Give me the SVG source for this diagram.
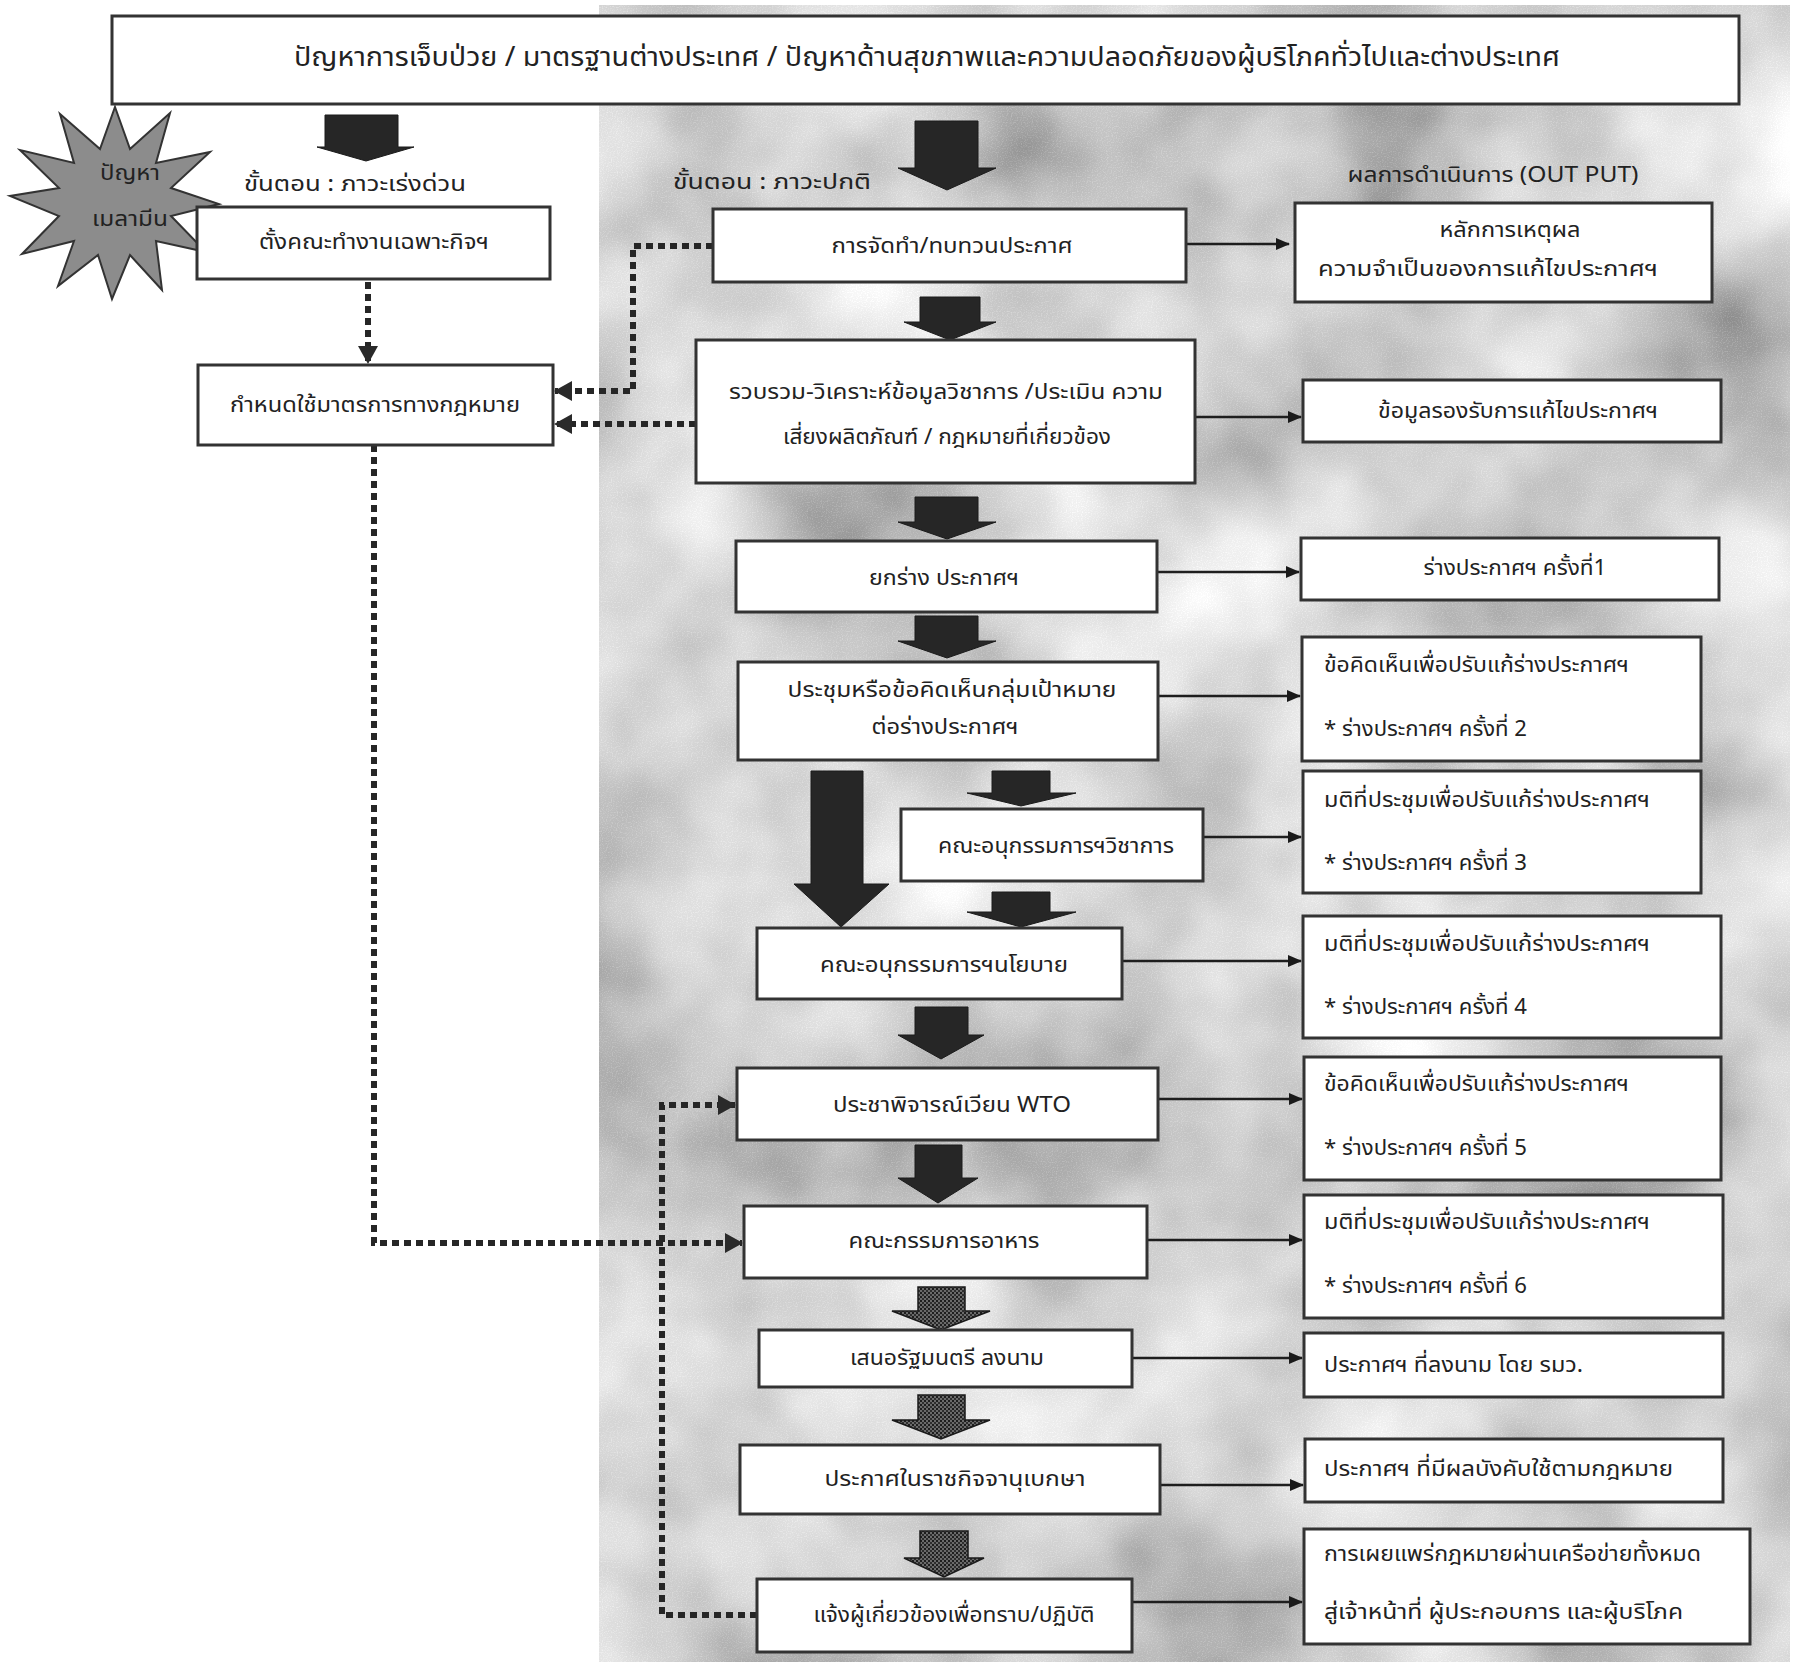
<svg xmlns="http://www.w3.org/2000/svg" width="1805" height="1662" viewBox="0 0 1805 1662">
<defs>
<filter id="cloud" x="0" y="0" width="100%" height="100%" filterUnits="objectBoundingBox">
<feTurbulence type="fractalNoise" baseFrequency="0.004" numOctaves="4" seed="7" result="n1"/>
<feColorMatrix in="n1" type="matrix" values="1.1 0 0 0 0.08  1.1 0 0 0 0.08  1.1 0 0 0 0.08  0 0 0 0 1" result="c1"/>
<feTurbulence type="fractalNoise" baseFrequency="0.8" numOctaves="1" seed="2" result="n2"/>
<feColorMatrix in="n2" type="matrix" values="0.35 0 0 0 -0.17  0.35 0 0 0 -0.17  0.35 0 0 0 -0.17  0 0 0 0 1" result="c2"/>
<feComposite in="c1" in2="c2" operator="arithmetic" k1="0" k2="1" k3="1" k4="0"/>
</filter>
<pattern id="dots" width="4" height="4" patternUnits="userSpaceOnUse">
<rect width="4" height="4" fill="#6a6a6a"/>
<rect width="2" height="2" fill="#1e1e1e"/>
<rect x="2" y="2" width="2" height="2" fill="#2e2e2e"/>
</pattern>
<marker id="ah" viewBox="0 0 14 12" refX="13" refY="6" markerWidth="14" markerHeight="12" markerUnits="userSpaceOnUse" orient="auto">
<path d="M0,0 L14,6 L0,12 Z" fill="#1a1a1a"/>
</marker>
<marker id="dh" viewBox="0 0 18 20" refX="17" refY="10" markerWidth="18" markerHeight="20" markerUnits="userSpaceOnUse" orient="auto">
<path d="M0,0 L18,10 L0,20 Z" fill="#2a2a2a"/>
</marker>
<style>
.box{fill:#ffffff;stroke:#333333;stroke-width:3}
.t{font-family:"Noto Sans Thai","Noto Sans","DejaVu Sans",sans-serif;font-size:22px;fill:#222222;dominant-baseline:central}
.c{text-anchor:middle}
.big{font-size:27px}
.blk{fill:#262626;stroke:#1a1a1a;stroke-width:1}
.pat{fill:url(#dots);stroke:#1a1a1a;stroke-width:1.5}
.sol{fill:none;stroke:#1e1e1e;stroke-width:2.5}
.dot{fill:none;stroke:#262626;stroke-width:6;stroke-dasharray:7 5}
</style>
</defs>
<rect x="0" y="0" width="1805" height="1662" fill="#ffffff"/>
<rect id="bg" x="599" y="5" width="1191" height="1657" filter="url(#cloud)"/>

<g id="connectors">
<path class="sol" d="M1186,244 H1289" marker-end="url(#ah)"/>
<path class="sol" d="M1195,417 H1301" marker-end="url(#ah)"/>
<path class="sol" d="M1157,572 H1299" marker-end="url(#ah)"/>
<path class="sol" d="M1158,696 H1300" marker-end="url(#ah)"/>
<path class="sol" d="M1203,837 H1301" marker-end="url(#ah)"/>
<path class="sol" d="M1122,961 H1301" marker-end="url(#ah)"/>
<path class="sol" d="M1158,1099 H1302" marker-end="url(#ah)"/>
<path class="sol" d="M1147,1240 H1302" marker-end="url(#ah)"/>
<path class="sol" d="M1132,1358 H1302" marker-end="url(#ah)"/>
<path class="sol" d="M1160,1485 H1303" marker-end="url(#ah)"/>
<path class="sol" d="M1132,1602 H1302" marker-end="url(#ah)"/>
<path class="dot" d="M368,282 V363" marker-end="url(#dh)"/>
<path class="dot" d="M713,246 H633 V391 H555" marker-end="url(#dh)"/>
<path class="dot" d="M696,424 H555" marker-end="url(#dh)"/>
<path class="dot" d="M374,445 V1243 H742" marker-end="url(#dh)"/>
<path class="dot" d="M757,1615 H662 V1105 H735" marker-end="url(#dh)"/>
<path class="blk" d="M325,115 H398 V147 H414 L366,161 L317,147 H325 Z"/>
<path class="blk" d="M915,121 H978 V168 H996 L947,190 L898,168 H915 Z"/>
<path class="blk" d="M920,297 H980 V322 H996 L950,340 L904,322 H920 Z"/>
<path class="blk" d="M915,497 H978 V522 H996 L947,539 L898,522 H915 Z"/>
<path class="blk" d="M915,616 H978 V641 H996 L947,658 L898,641 H915 Z"/>
<path class="blk" d="M811,771 H863 V884 H889 L841,927 L794,884 H811 Z"/>
<path class="blk" d="M992,771 H1050 V793 H1076 L1021,806 L967,793 H992 Z"/>
<path class="blk" d="M992,892 H1050 V912 H1076 L1021,927 L967,912 H992 Z"/>
<path class="blk" d="M915,1007 H968 V1035 H984 L941,1059 L898,1035 H915 Z"/>
<path class="blk" d="M915,1145 H962 V1178 H978 L938,1203 L898,1178 H915 Z"/>
<path class="pat" d="M918,1287 H965 V1311 H990 L941,1330 L892,1311 H918 Z"/>
<path class="pat" d="M918,1395 H965 V1420 H990 L941,1439 L892,1420 H918 Z"/>
<path class="pat" d="M920,1531 H968 V1558 H984 L944,1577 L904,1558 H920 Z"/>
</g>

<g id="title">
<rect class="box" x="112" y="16" width="1627" height="88"/>
<text class="t c big" x="927" y="57" textLength="1266" lengthAdjust="spacingAndGlyphs">ปัญหาการเจ็บป่วย / มาตรฐานต่างประเทศ / ปัญหาด้านสุขภาพและความปลอดภัยของผู้บริโภคทั่วไปและต่างประเทศ</text>
</g>

<g id="star">
<polygon points="115,107 130,149 170,113 156,163 210,152 171,188 219,204 171,216 206,252 156,241 162,290 130,255 112,299 98,255 58,286 74,241 22,254 59,216 10,196 59,188 20,150 74,163 60,114 100,149" fill="#8c8c8c" stroke="#333333" stroke-width="2"/>
<text class="t c" x="130" y="173" textLength="60" lengthAdjust="spacingAndGlyphs">ปัญหา</text>
<text class="t c" x="130" y="219" textLength="76" lengthAdjust="spacingAndGlyphs">เมลามีน</text>
</g>

<g id="label-urgent"><text class="t" x="244" y="184" textLength="222" lengthAdjust="spacingAndGlyphs">ขั้นตอน : ภาวะเร่งด่วน</text></g>
<g id="label-normal"><text class="t" x="673" y="182" textLength="198" lengthAdjust="spacingAndGlyphs">ขั้นตอน : ภาวะปกติ</text></g>
<g id="label-output"><text class="t c" x="1493" y="175" textLength="291" lengthAdjust="spacingAndGlyphs">ผลการดำเนินการ (OUT PUT)</text></g>

<g id="n-taskforce">
<rect class="box" x="197" y="207" width="353" height="72"/>
<text class="t c" x="374" y="242" textLength="230" lengthAdjust="spacingAndGlyphs">ตั้งคณะทำงานเฉพาะกิจฯ</text>
</g>
<g id="n-legal">
<rect class="box" x="198" y="365" width="355" height="80"/>
<text class="t c" x="375" y="405" textLength="290" lengthAdjust="spacingAndGlyphs">กำหนดใช้มาตรการทางกฎหมาย</text>
</g>

<g id="n1">
<rect class="box" x="713" y="209" width="473" height="73"/>
<text class="t c" x="952" y="246" textLength="241" lengthAdjust="spacingAndGlyphs">การจัดทำ/ทบทวนประกาศ</text>
</g>
<g id="n2">
<rect class="box" x="696" y="340" width="499" height="143"/>
<text class="t c" x="946" y="392" textLength="434" lengthAdjust="spacingAndGlyphs">รวบรวม-วิเคราะห์ข้อมูลวิชาการ /ประเมิน  ความ</text>
<text class="t c" x="947" y="437" textLength="328" lengthAdjust="spacingAndGlyphs">เสี่ยงผลิตภัณฑ์ / กฎหมายที่เกี่ยวข้อง</text>
</g>
<g id="n3">
<rect class="box" x="736" y="541" width="421" height="71"/>
<text class="t c" x="944" y="578" textLength="150" lengthAdjust="spacingAndGlyphs">ยกร่าง ประกาศฯ</text>
</g>
<g id="n4">
<rect class="box" x="738" y="662" width="420" height="98"/>
<text class="t c" x="952" y="690" textLength="329" lengthAdjust="spacingAndGlyphs">ประชุมหรือข้อคิดเห็นกลุ่มเป้าหมาย</text>
<text class="t c" x="945" y="727" textLength="147" lengthAdjust="spacingAndGlyphs">ต่อร่างประกาศฯ</text>
</g>
<g id="n5">
<rect class="box" x="901" y="809" width="302" height="72"/>
<text class="t c" x="1056" y="846" textLength="236" lengthAdjust="spacingAndGlyphs">คณะอนุกรรมการฯวิชาการ</text>
</g>
<g id="n6">
<rect class="box" x="757" y="928" width="365" height="71"/>
<text class="t c" x="944" y="965" textLength="248" lengthAdjust="spacingAndGlyphs">คณะอนุกรรมการฯนโยบาย</text>
</g>
<g id="n7">
<rect class="box" x="737" y="1068" width="421" height="72"/>
<text class="t c" x="952" y="1105" textLength="238" lengthAdjust="spacingAndGlyphs">ประชาพิจารณ์เวียน WTO</text>
</g>
<g id="n8">
<rect class="box" x="744" y="1206" width="403" height="72"/>
<text class="t c" x="944" y="1241" textLength="191" lengthAdjust="spacingAndGlyphs">คณะกรรมการอาหาร</text>
</g>
<g id="n9">
<rect class="box" x="759" y="1330" width="373" height="57"/>
<text class="t c" x="947" y="1358" textLength="194" lengthAdjust="spacingAndGlyphs">เสนอรัฐมนตรี ลงนาม</text>
</g>
<g id="n10">
<rect class="box" x="740" y="1445" width="420" height="69"/>
<text class="t c" x="955" y="1479" textLength="261" lengthAdjust="spacingAndGlyphs">ประกาศในราชกิจจานุเบกษา</text>
</g>
<g id="n11">
<rect class="box" x="757" y="1579" width="375" height="73"/>
<text class="t c" x="954" y="1615" textLength="281" lengthAdjust="spacingAndGlyphs">แจ้งผู้เกี่ยวข้องเพื่อทราบ/ปฏิบัติ</text>
</g>

<g id="r1">
<rect class="box" x="1295" y="203" width="417" height="99"/>
<text class="t c" x="1510" y="230" textLength="141" lengthAdjust="spacingAndGlyphs">หลักการเหตุผล</text>
<text class="t c" x="1488" y="269" textLength="340" lengthAdjust="spacingAndGlyphs">ความจำเป็นของการแก้ไขประกาศฯ</text>
</g>
<g id="r2">
<rect class="box" x="1303" y="380" width="418" height="62"/>
<text class="t c" x="1518" y="411" textLength="280" lengthAdjust="spacingAndGlyphs">ข้อมูลรองรับการแก้ไขประกาศฯ</text>
</g>
<g id="r3">
<rect class="box" x="1301" y="538" width="418" height="62"/>
<text class="t c" x="1515" y="568" textLength="183" lengthAdjust="spacingAndGlyphs">ร่างประกาศฯ ครั้งที่1</text>
</g>
<g id="r4">
<rect class="box" x="1302" y="637" width="399" height="124"/>
<text class="t" x="1324" y="665" textLength="305" lengthAdjust="spacingAndGlyphs">ข้อคิดเห็นเพื่อปรับแก้ร่างประกาศฯ</text>
<text class="t" x="1324" y="729" textLength="203" lengthAdjust="spacingAndGlyphs">* ร่างประกาศฯ ครั้งที่ 2</text>
</g>
<g id="r5">
<rect class="box" x="1303" y="771" width="398" height="122"/>
<text class="t" x="1324" y="800" textLength="326" lengthAdjust="spacingAndGlyphs">มติที่ประชุมเพื่อปรับแก้ร่างประกาศฯ</text>
<text class="t" x="1324" y="863" textLength="203" lengthAdjust="spacingAndGlyphs">* ร่างประกาศฯ ครั้งที่ 3</text>
</g>
<g id="r6">
<rect class="box" x="1303" y="916" width="418" height="122"/>
<text class="t" x="1324" y="944" textLength="326" lengthAdjust="spacingAndGlyphs">มติที่ประชุมเพื่อปรับแก้ร่างประกาศฯ</text>
<text class="t" x="1324" y="1007" textLength="203" lengthAdjust="spacingAndGlyphs">* ร่างประกาศฯ ครั้งที่ 4</text>
</g>
<g id="r7">
<rect class="box" x="1304" y="1057" width="417" height="123"/>
<text class="t" x="1324" y="1084" textLength="305" lengthAdjust="spacingAndGlyphs">ข้อคิดเห็นเพื่อปรับแก้ร่างประกาศฯ</text>
<text class="t" x="1324" y="1148" textLength="203" lengthAdjust="spacingAndGlyphs">* ร่างประกาศฯ ครั้งที่ 5</text>
</g>
<g id="r8">
<rect class="box" x="1304" y="1195" width="419" height="123"/>
<text class="t" x="1324" y="1222" textLength="326" lengthAdjust="spacingAndGlyphs">มติที่ประชุมเพื่อปรับแก้ร่างประกาศฯ</text>
<text class="t" x="1324" y="1286" textLength="203" lengthAdjust="spacingAndGlyphs">* ร่างประกาศฯ ครั้งที่ 6</text>
</g>
<g id="r9">
<rect class="box" x="1304" y="1333" width="419" height="64"/>
<text class="t" x="1324" y="1365" textLength="259" lengthAdjust="spacingAndGlyphs">ประกาศฯ ที่ลงนาม โดย รมว.</text>
</g>
<g id="r10">
<rect class="box" x="1305" y="1439" width="418" height="63"/>
<text class="t" x="1324" y="1469" textLength="349" lengthAdjust="spacingAndGlyphs">ประกาศฯ ที่มีผลบังคับใช้ตามกฎหมาย</text>
</g>
<g id="r11">
<rect class="box" x="1304" y="1529" width="446" height="115"/>
<text class="t" x="1324" y="1554" textLength="377" lengthAdjust="spacingAndGlyphs">การเผยแพร่กฎหมายผ่านเครือข่ายทั้งหมด</text>
<text class="t" x="1324" y="1612" textLength="359" lengthAdjust="spacingAndGlyphs">สู่เจ้าหน้าที่  ผู้ประกอบการ และผู้บริโภค</text>
</g>
</svg>
